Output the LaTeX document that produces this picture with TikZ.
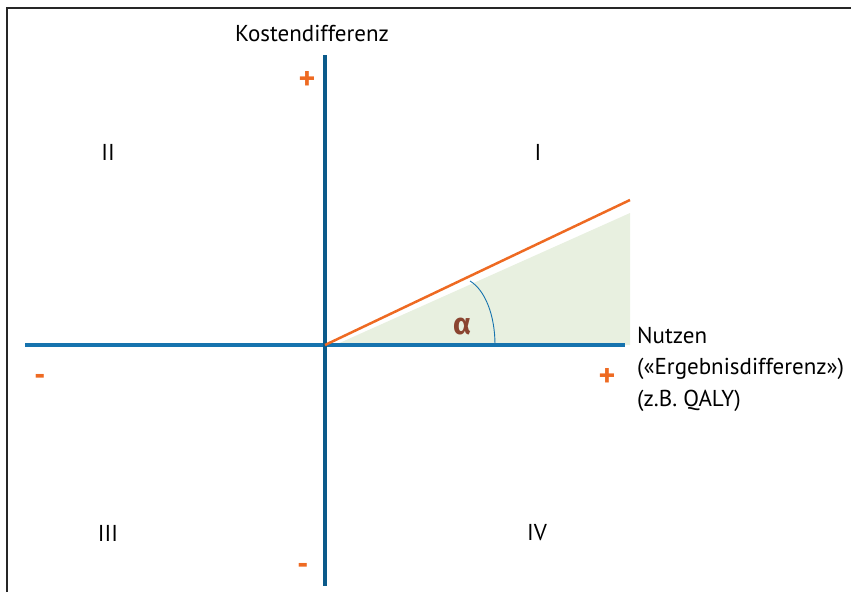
\documentclass[tikz,border=0pt]{standalone}
\usepackage{fontspec}
\setmainfont{PT Sans}
\newfontfamily\greekfont{Fira Sans}
\definecolor{axisdark}{HTML}{0B5A8A}
\definecolor{axislight}{HTML}{1673AE}
\definecolor{orng}{HTML}{EE6A22}
\definecolor{pale}{HTML}{E8F0E0}
\definecolor{brwn}{HTML}{8A4430}
\begin{document}
\begin{tikzpicture}[x=1pt,y=-1pt,
  lbl/.style={font=\fontsize{23}{27}\selectfont, inner sep=0pt},
  sgn/.style={font=\fontsize{32}{34}\selectfont\bfseries, text=orng, inner sep=0pt}]
\useasboundingbox (0,0) rectangle (851,592);
\draw[line width=2pt, black!85] (7,592) -- (7,8) -- (851,8);
% shaded wedge
\fill[pale] (335,345) -- (630,213) -- (630,345) -- cycle;
% axes
\coordinate (O) at (325,345);
\coordinate (xl) at (25,345);
\coordinate (xr) at (625,345);
\coordinate (yt) at (325,55);
\coordinate (yb) at (325,586);
\draw[line width=4pt, axislight] (xl) -- (xr);
\draw[line width=4pt, axisdark] (yt) -- (yb);
% orange line
\coordinate (L) at (630,200);
\draw[line width=2.5pt, orng] (O) -- (L);
% arc
\coordinate (a1) at (470,281);
\coordinate (a2) at (495,345);
\draw[line width=0.9pt, axislight] (a1) .. controls (485,290) and (495,315) .. (a2);
\node[font=\fontsize{30}{32}\selectfont\greekfont\bfseries, text=brwn, inner sep=0pt] (alpha) at (462,327) {α};
% labels
\node[lbl] (kd) at (312,33) {Kostendifferenz};
\node[sgn] (pt) at (307,80) {+};
\node[sgn] (mb) at (303,569) {-};
\node[sgn] (ml) at (40,380) {-};
\node[sgn] (pr) at (607,377) {+};
\node[lbl] (q1) at (538,152) {I};
\node[lbl] (q2) at (108,152) {II};
\node[lbl] (q3) at (108,533) {III};
\node[lbl] (q4) at (537,533) {IV};
\node[lbl, anchor=west] (n1) at (637,335) {Nutzen};
\node[lbl, anchor=west] (n2) at (637,369) {(«Ergebnisdifferenz»)};
\node[lbl, anchor=west] (n3) at (637,401) {(z.B. QALY)};
\end{tikzpicture}
\end{document}
